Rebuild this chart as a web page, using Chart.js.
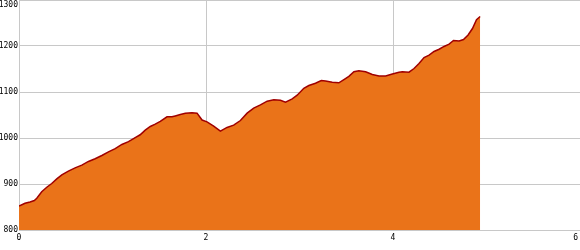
<!DOCTYPE html>
<html>
<head>
<meta charset="utf-8">
<script src="https://cdn.jsdelivr.net/npm/chart.js@4/dist/chart.umd.min.js"></script>
<style>
  body { margin: 0; background: #fff; }
  canvas { display: block; }
</style>
</head>
<body>
<canvas id="profileChart" width="580" height="250"></canvas>
<script>
// Elevation profile data (distance km / elevation m)
const distances = [
  0, 0.064, 0.118, 0.164, 0.19, 0.243, 0.297, 0.35, 0.404, 0.458,
  0.528, 0.6, 0.672, 0.743, 0.814, 0.886, 0.957, 1.029, 1.10, 1.171,
  1.243, 1.296, 1.35, 1.404, 1.457, 1.511, 1.583, 1.636, 1.671, 1.725,
  1.779, 1.85, 1.904, 1.958, 2.011, 2.082, 2.154, 2.225, 2.296, 2.368,
  2.44, 2.51, 2.582, 2.654, 2.725, 2.796, 2.85, 2.922, 2.975, 3.046,
  3.10, 3.171, 3.233, 3.279, 3.35, 3.421, 3.475, 3.528, 3.582, 3.635,
  3.707, 3.779, 3.85, 3.921, 3.993, 4.064, 4.10, 4.171, 4.225, 4.278,
  4.332, 4.386, 4.439, 4.493, 4.546, 4.60, 4.647, 4.707, 4.754, 4.803,
  4.85, 4.893, 4.932
];
const elevations = [
  852, 858, 861, 864, 869, 883, 893, 901, 911, 920,
  928, 935, 941, 949, 955, 962, 970, 977, 986, 992,
  1001, 1007, 1017, 1025, 1030, 1036, 1046, 1046, 1048, 1051,
  1054, 1055, 1054, 1039, 1035, 1026, 1015, 1023, 1028, 1038,
  1054, 1065, 1072, 1080, 1083, 1082, 1078, 1085, 1093, 1108,
  1114, 1119, 1125, 1124, 1121, 1120, 1127, 1134, 1144, 1146,
  1144, 1138, 1135, 1135, 1139, 1143, 1144, 1143, 1151, 1162,
  1175, 1180, 1188, 1193, 1199, 1204, 1212, 1211, 1214, 1224,
  1238, 1257, 1264
];
const yTicks = [800, 900, 1000, 1100, 1200, 1300];
const xTicks = [0, 2, 4, 6];

const gridColor = '#c8c8c8';
const tickFont = { family: 'DejaVu Sans Mono', size: 8 };

// keep the first/last labels inside the canvas
const edgeLabels = {
  id: 'edgeLabels',
  beforeDraw(chart) {
    const yItems = chart.scales.y.getLabelItems();
    yItems.forEach(item => {
      if (item.label == String(yTicks[yTicks.length - 1])) {
        item.options.textBaseline = 'top';
        item.options.translation[1] += 1;
      }
    });
    const xItems = chart.scales.x.getLabelItems();
    xItems.forEach(item => {
      if (item.label == String(xTicks[xTicks.length - 1])) {
        item.options.textAlign = 'right';
        item.options.translation[0] -= 2;
      }
    });
  }
};

const ctx = document.getElementById('profileChart');
new Chart(ctx, {
  type: 'line',
  data: {
    datasets: [{
      data: distances.map((d, i) => ({ x: d, y: elevations[i] })),
      borderColor: '#a00000',
      borderWidth: 1.5,
      backgroundColor: '#ea7319',
      fill: 'start',
      pointRadius: 0,
      tension: 0
    }]
  },
  options: {
    responsive: false,
    animation: false,
    layout: { padding: 0 },
    plugins: {
      legend: { display: false },
      tooltip: { enabled: false }
    },
    scales: {
      x: {
        type: 'linear',
        min: xTicks[0],
        max: xTicks[xTicks.length - 1],
        afterBuildTicks: scale => { scale.ticks = xTicks.map(v => ({ value: v })); },
        grid: { color: gridColor, drawTicks: false },
        border: { color: gridColor },
        ticks: { font: tickFont, color: '#000', padding: 3, maxRotation: 0, callback: v => String(v) },
        afterFit: scale => {
          scale.height = 20;
          scale.paddingLeft = 0;
          scale.paddingRight = 0;
        }
      },
      y: {
        min: yTicks[0],
        max: yTicks[yTicks.length - 1],
        afterBuildTicks: scale => { scale.ticks = yTicks.map(v => ({ value: v })); },
        grid: { color: gridColor, drawTicks: false },
        border: { color: gridColor },
        ticks: { font: tickFont, color: '#000', padding: 1, callback: v => String(v) },
        afterFit: scale => {
          scale.width = 19;
          scale.paddingTop = 0;
          scale.paddingBottom = 0;
        }
      }
    }
  },
  plugins: [edgeLabels]
});
</script>
</body>
</html>
